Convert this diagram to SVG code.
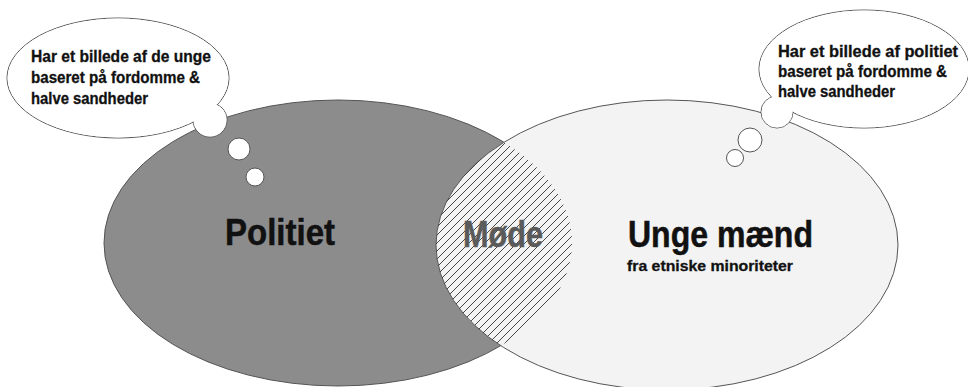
<svg xmlns="http://www.w3.org/2000/svg" width="968" height="387" viewBox="0 0 968 387">
<style>
.txt{font-family:"Liberation Sans",Arial,sans-serif;font-weight:bold;fill:#111}
.bub{font-size:16px;stroke:#111;stroke-width:0.3}
.big{font-size:36px;stroke:#111;stroke-width:0.5}
.thought{fill:#fff;stroke:#555;stroke-width:1}
</style>
<defs>
<pattern id="hatch" patternUnits="userSpaceOnUse" width="8" height="8">
<path d="M-1,1 l2,-2 M0,8 l8,-8 M7,9 l2,-2" stroke="#333" stroke-width="0.9"/>
</pattern>
<clipPath id="clipL"><ellipse cx="338" cy="243" rx="234" ry="143"/></clipPath>
</defs>
<rect width="968" height="387" fill="#fff"/>
<g id="politiet">
<ellipse cx="338" cy="243" rx="234" ry="143" fill="#8c8c8c" stroke="#555" stroke-width="1"/>
<text class="txt big" x="225" y="245" textLength="110" lengthAdjust="spacingAndGlyphs">Politiet</text>
</g>
<g id="unge-maend">
<ellipse cx="667" cy="245" rx="231" ry="145" fill="#f3f3f3" stroke="#555" stroke-width="1"/>
<text class="txt big" x="628" y="247" textLength="185" lengthAdjust="spacingAndGlyphs">Unge mænd</text>
<text class="txt" x="627" y="271" font-size="15" style="stroke:#111;stroke-width:0.3" textLength="166" lengthAdjust="spacingAndGlyphs">fra etniske minoriteter</text>
</g>
<g id="moede">
<ellipse cx="667" cy="245" rx="231" ry="145" fill="url(#hatch)" clip-path="url(#clipL)"/>
<text class="txt big" x="463" y="247" style="fill:#5a5a5a;stroke:#5a5a5a" textLength="80" lengthAdjust="spacingAndGlyphs">Møde</text>
</g>
<g id="boble-venstre">
<ellipse cx="118" cy="78" rx="111" ry="60" fill="#fff" stroke="#555" stroke-width="1"/>
<circle cx="210" cy="120" r="17" fill="#fff" stroke="#555" stroke-width="1"/>
<ellipse cx="118" cy="78" rx="110.5" ry="59.5" fill="#fff"/>
<circle cx="210" cy="120" r="16.5" fill="#fff"/>
<text class="txt bub" x="31" y="62" textLength="180" lengthAdjust="spacingAndGlyphs">Har et billede af de unge</text>
<text class="txt bub" x="31" y="83" textLength="169" lengthAdjust="spacingAndGlyphs">baseret på fordomme &amp;</text>
<text class="txt bub" x="31" y="104" textLength="117" lengthAdjust="spacingAndGlyphs">halve sandheder</text>
</g>
<g id="boble-hoejre">
<ellipse cx="864" cy="69" rx="105" ry="59" fill="#fff" stroke="#555" stroke-width="1"/>
<circle cx="777" cy="112" r="16" fill="#fff" stroke="#555" stroke-width="1"/>
<ellipse cx="864" cy="69" rx="104.5" ry="58.5" fill="#fff"/>
<circle cx="777" cy="112" r="15.5" fill="#fff"/>
<text class="txt bub" x="778" y="57" textLength="180" lengthAdjust="spacingAndGlyphs">Har et billede af politiet</text>
<text class="txt bub" x="778" y="77" textLength="169" lengthAdjust="spacingAndGlyphs">baseret på fordomme &amp;</text>
<text class="txt bub" x="778" y="97" textLength="117" lengthAdjust="spacingAndGlyphs">halve sandheder</text>
</g>
<g id="connectors">
<circle class="thought" cx="239" cy="149" r="11"/>
<circle class="thought" cx="255" cy="177" r="9"/>
<circle class="thought" cx="750" cy="140" r="12"/>
<circle class="thought" cx="735" cy="158" r="8.5"/>
</g>
</svg>
